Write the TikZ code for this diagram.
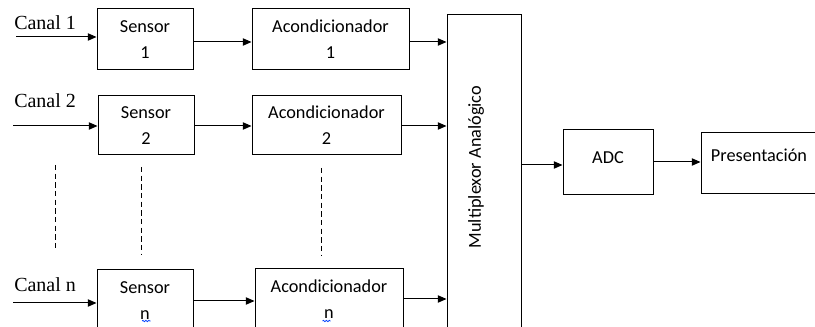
\documentclass[tikz,border=0pt]{standalone}
\usepackage{fontspec}
\setmainfont{Liberation Serif}
\newfontfamily\calib{Carlito}
\usetikzlibrary{arrows.meta,calc,decorations.pathmorphing}
% shift a label up without changing its box
\newcommand\liftby[2]{\raisebox{#1}[\height][\depth]{#2}}

\begin{document}
\begin{tikzpicture}[x=0.75pt,y=-0.75pt,
  box/.style={draw, line width=0.75pt, inner sep=0pt, align=center,
              font=\calib\fontsize{13.7}{19.5}\selectfont},
  sz/.style 2 args={minimum width=#1*0.75pt, minimum height=#2*0.75pt},
  lbl/.style={anchor=base west, inner sep=0pt, font=\fontsize{15}{18}\selectfont},
  arr/.style={line width=0.75pt, -{Triangle[length=6.5pt,width=5.5pt]}},
  dots/.style={line width=0.75pt, dash pattern=on 4pt off 2.5pt},
  squig/.style={draw=blue!75!cyan, line width=0.6pt, decorate,
                decoration={snake, amplitude=0.5pt, segment length=2.2pt}}
]
\useasboundingbox (0,0) rectangle (815,327);
\clip (0,0) rectangle (815,327);

% channel 1
\node[box, sz={96}{61}] (S1) at (145,39.5) {Sensor\\1};
\node[box, sz={157}{61}] (A1) at (330.5,39.5) {Acondicionador\\1};
% channel 2
\node[box, sz={96}{59}] (S2) at (146,125.5) {Sensor\\2};
\node[box, sz={149}{59}] (A2) at (326.5,125.5) {Acondicionador\\2};
% channel n
\node[box, sz={96}{61}] (Sn) at (145,300.5) {Sensor\\n};
\node[box, sz={148}{61}] (An) at (329,299.5) {Acondicionador\\n};

% multiplexer, ADC and output
\node[box, sz={74}{340}] (M) at (484,185) {};
\node[rotate=90, inner sep=0pt, font=\calib\fontsize{13.7}{16}\selectfont] (Mtxt) at (476,167) {Multiplexor Analógico};
\node[box, sz={90}{65}] (ADC) at (608,162.5) {\liftby{3.75pt}{ADC}};
\node[box, sz={116}{61}] (P) at (759,163.5) {\liftby{6.4pt}{Presentación}};

% channel labels and inputs
\node[lbl] (C1) at (14,30) {Canal 1};
\node[lbl] (C2) at (14,108) {Canal 2};
\node[lbl] (Cn) at (14,292) {Canal n};
\coordinate (i1) at (16,37);
\coordinate (i2) at (13,126);
\coordinate (in) at (13,303);
\draw[arr] (i1) -- (i1 -| S1.west);
\draw[arr] (i2) -- (i2 -| S2.west);
\draw[arr] (in) -- (in -| Sn.west);

% signal path
\draw[arr] (S1.east |- 0,42) -- (A1.west |- 0,42);
\draw[arr] (A1.east |- 0,42) -- (M.west |- 0,42);
\draw[arr] (S2.east |- 0,126) -- (A2.west |- 0,126);
\draw[arr] (A2.east |- 0,126) -- (M.west |- 0,126);
\draw[arr] (Sn.east |- 0,301) -- (An.west |- 0,301);
\draw[arr] (An.east |- 0,299) -- (M.west |- 0,299);
\draw[arr] (M.east |- 0,165) -- (ADC.west |- 0,165);
\draw[arr] (ADC.east |- 0,162) -- (P.west |- 0,162);

% elided channels
\draw[dots] (55,165) -- (55,250);
\draw[dots] (141,167) -- (141,254);
\draw[dots] (321,168) -- (321,255);

% spell-check marks under the n labels
\draw[squig] ($(Sn.center)+(-3,20.5)$) -- ($(Sn.center)+(5.5,20.5)$);
\draw[squig] ($(An.center)+(-6.5,21.5)$) -- ($(An.center)+(1.5,21.5)$);
\end{tikzpicture}
\end{document}
